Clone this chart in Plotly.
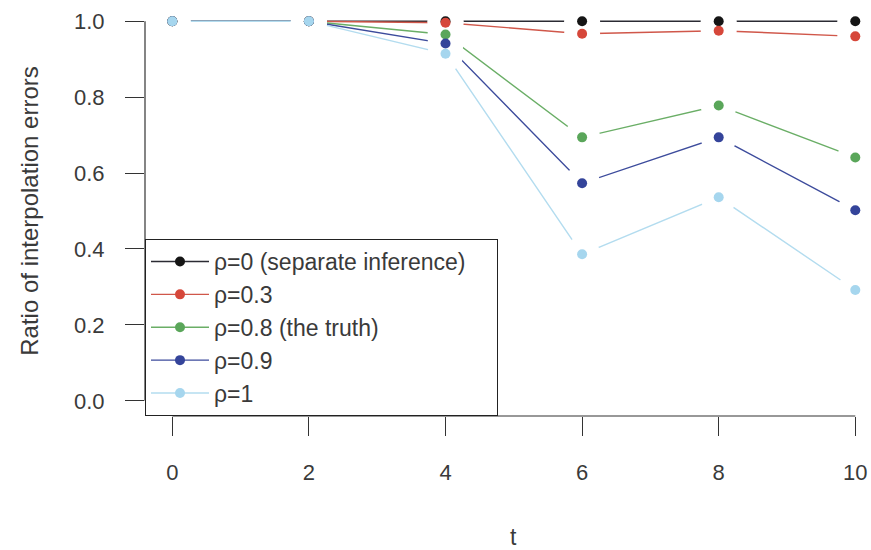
import plotly.graph_objects as go

t = [0, 2, 4, 6, 8, 10]
rho_0 = [1.0, 1.0, 1.0, 1.0, 1.0, 1.0]
rho_03 = [1.0, 1.0, 0.996, 0.967, 0.975, 0.960]
rho_08 = [1.0, 1.0, 0.965, 0.694, 0.778, 0.641]
rho_09 = [1.0, 1.0, 0.941, 0.573, 0.694, 0.502]
rho_1 = [1.0, 1.0, 0.914, 0.386, 0.536, 0.292]

names = ["ρ=0 (separate inference)", "ρ=0.3", "ρ=0.8 (the truth)", "ρ=0.9", "ρ=1"]
series = [rho_0, rho_03, rho_08, rho_09, rho_1]
line_colors = ["#2b2b33", "#d0574a", "#6aae66", "#3c4b9c", "#b3dcef"]
dot_colors = ["#151515", "#d6473a", "#5aa65a", "#34449a", "#a6d6ee"]

x_ticks = [0, 2, 4, 6, 8, 10]
y_ticks = [0.0, 0.2, 0.4, 0.6, 0.8, 1.0]
y_tick_text = ["0.0", "0.2", "0.4", "0.6", "0.8", "1.0"]
x_title = "t"
y_title = "Ratio of interpolation errors"

FONT = "Liberation Sans, Arial, sans-serif"
TXT = "#3a3a3a"
PAD = "\u00a0" * 4

fig = go.Figure()

# lines
for ys, lc in zip(series, line_colors):
    fig.add_trace(go.Scatter(x=t, y=ys, mode="lines", line=dict(color=lc, width=1.4),
                             showlegend=False, hoverinfo="skip"))
# white gaps around points (type="b" look)
for ys in series:
    fig.add_trace(go.Scatter(x=t, y=ys, mode="markers",
                             marker=dict(color="white", size=36, line=dict(width=0)),
                             showlegend=False, hoverinfo="skip"))
# points
for ys, dc, nm in zip(series, dot_colors, names):
    fig.add_trace(go.Scatter(x=t, y=ys, mode="markers", name=nm,
                             marker=dict(color=dc, size=10, line=dict(width=0)),
                             showlegend=False))
# legend entries
for i, (nm, lc, dc) in enumerate(zip(names, line_colors, dot_colors)):
    fig.add_trace(go.Scatter(x=[None], y=[None], mode="lines+markers",
                             name=nm + (PAD if i == 0 else ""),
                             line=dict(color=lc, width=1.4),
                             marker=dict(color=dc, size=10)))

# R-style axis lines spanning first to last tick
fig.add_shape(type="line", xref="x", yref="paper", x0=x_ticks[0], x1=x_ticks[-1], y0=0, y1=0,
              line=dict(color="#333", width=1.2))
fig.add_shape(type="line", xref="paper", yref="y", x0=0, x1=0, y0=y_ticks[0], y1=y_ticks[-1],
              line=dict(color="#333", width=1.2))

# x-axis title centred on the full R plot region
fig.add_annotation(text=x_title, xref="x", yref="paper", x=(x_ticks[0] + x_ticks[-1]) / 2, y=0,
                   xanchor="center", yanchor="top", yshift=-106, showarrow=False,
                   font=dict(family=FONT, size=23, color=TXT))

fig.update_layout(
    width=871, height=550,
    margin=dict(l=145, r=0, t=6, b=134),
    paper_bgcolor="white", plot_bgcolor="white",
    font=dict(family=FONT, size=22, color=TXT),
    legend=dict(x=0, y=0, xanchor="left", yanchor="bottom",
                bordercolor="#222", borderwidth=1, bgcolor="white",
                font=dict(family=FONT, size=23, color=TXT), itemwidth=58,
                tracegroupgap=0),
    xaxis=dict(range=[-0.4, 10.23], tickvals=x_ticks, ticks="outside", ticklen=19,
               tickcolor="#333", tickwidth=1.2, showgrid=False, zeroline=False, showline=False,
               ticklabelstandoff=18),
    yaxis=dict(range=[-0.04, 1.04], tickvals=y_ticks, ticktext=y_tick_text, ticks="outside",
               ticklen=19, tickcolor="#333", tickwidth=1.2, showgrid=False, zeroline=False,
               showline=False, ticklabelstandoff=16,
               title=dict(text=y_title, font=dict(size=24, color=TXT), standoff=28)),
)

fig.write_html("out.html", config={"displayModeBar": False},
               post_script="document.body.style.margin='0';document.body.style.overflow='hidden';")
